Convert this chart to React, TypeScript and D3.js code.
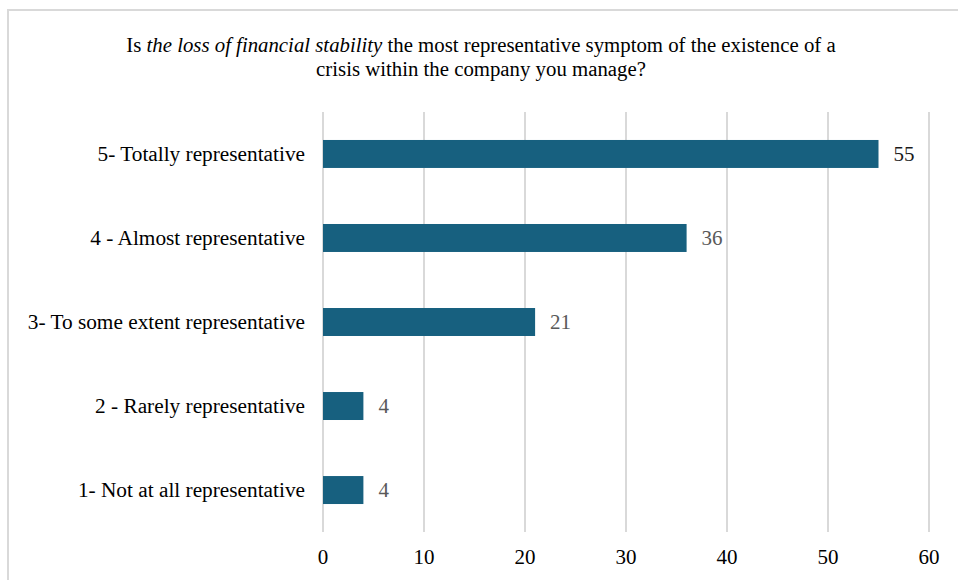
import React from "react";
import * as d3 from "d3";

const categories = [
  "5- Totally representative",
  "4 - Almost representative",
  "3- To some extent representative",
  "2 - Rarely representative",
  "1- Not at all representative",
];
const values = [55, 36, 21, 4, 4];
const xTicks = [0, 10, 20, 30, 40, 50, 60];

export default function App() {
  const W = 958, H = 580;
  const x = d3.scaleLinear().domain([0, 60]).range([323, 929]);
  const y = d3.scaleBand<string>().domain(categories).range([112, 532]).paddingInner(0.667).paddingOuter(0.333);
  const font = "'Liberation Serif', 'Times New Roman', serif";
  return (
    <svg width={W} height={H} style={{ position: "absolute", left: 0, top: 0 }} fontFamily={font}>
      <rect x={0} y={0} width={W} height={H} fill="#fff" />
      <path d={`M8,${H + 5} L8,10 L${W + 5},10`} fill="none" stroke="#d9d9d9" strokeWidth={2} />
      <text x={481} y={52} textAnchor="middle" fontSize={20.8} fill="#000">
        Is <tspan fontStyle="italic">the loss of financial stability</tspan> the most representative symptom of the existence of a
      </text>
      <text x={481} y={76} textAnchor="middle" fontSize={20.8} fill="#000">
        crisis within the company you manage?
      </text>
      {xTicks.map((t) => (
        <g key={t}>
          <line x1={x(t)} x2={x(t)} y1={112} y2={532} stroke="#d9d9d9" strokeWidth={2} />
          <text x={x(t)} y={564} textAnchor="middle" fontSize={21} fill="#000">{t}</text>
        </g>
      ))}
      {categories.map((c, i) => {
        const yy = y(c)!;
        const bh = y.bandwidth();
        return (
          <g key={c}>
            <rect x={x(0)} y={yy} width={x(values[i]) - x(0)} height={bh} fill="#17607f" />
            <text x={305} y={yy + bh / 2} dy="0.35em" textAnchor="end" fontSize={21.3} fill="#000">{c}</text>
            <text x={x(values[i]) + 15} y={yy + bh / 2} dy="0.35em" textAnchor="start" fontSize={21} fill={i === 0 ? "#1a1a1a" : "#595959"}>{values[i]}</text>
          </g>
        );
      })}
    </svg>
  );
}
